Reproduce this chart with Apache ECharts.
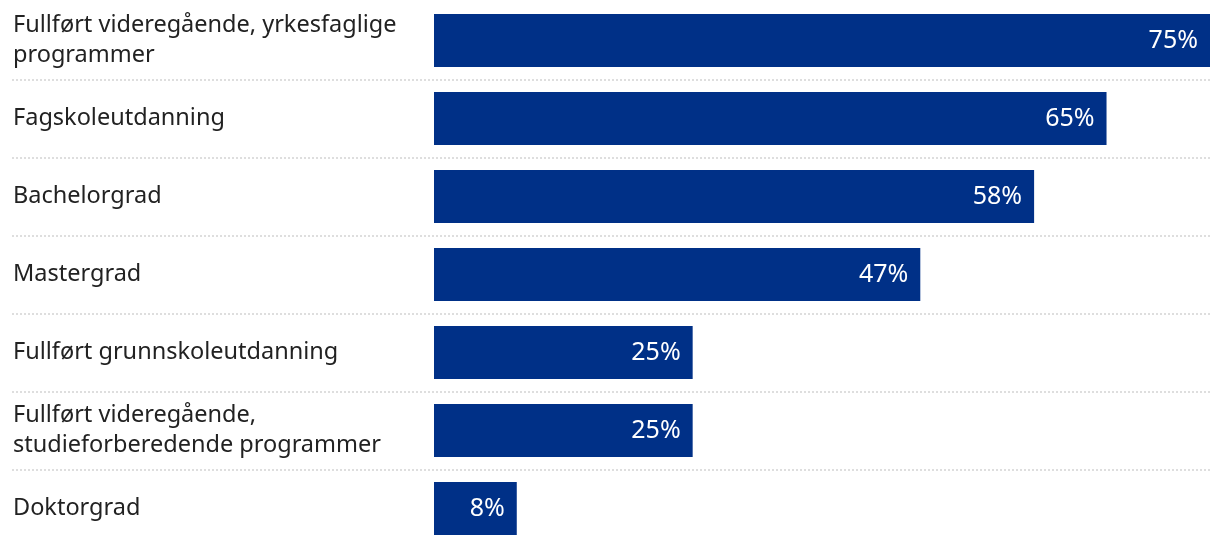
<!DOCTYPE html>
<html>
<head>
<meta charset="utf-8">
<script src="https://cdn.jsdelivr.net/npm/echarts@6/dist/echarts.min.js"></script>
<style>
  html, body { margin: 0; padding: 0; background: #fff; }
  #chart { width: 1220px; height: 548px; }
</style>
</head>
<body>
<div id="chart"></div>
<script>
// kategorier (ovenfra og ned)
const categories = [
  'Fullført videregående, yrkesfaglige\nprogrammer',
  'Fagskoleutdanning',
  'Bachelorgrad',
  'Mastergrad',
  'Fullført grunnskoleutdanning',
  'Fullført videregående,\nstudieforberedende programmer',
  'Doktorgrad'
]
// andel i prosent
const values = [75, 65, 58, 47, 25, 25, 8]

const barColor = '#003087'
const font = '"Noto Sans", sans-serif'

const chart = echarts.init(document.getElementById('chart'))

const option = {
  animation: false,
  grid: [
    // bakgrunn: etiketter og stiplede skillelinjer over hele bredden
    { left: 12, right: 10, top: 1.5, height: 546 },
    // søylene
    { left: 434, right: 10, top: 1.5, height: 546 }
  ],
  xAxis: [
    { gridIndex: 0, type: 'value', show: false, min: 0, max: 1 },
    { gridIndex: 1, type: 'value', show: false, min: 0, max: 75 }
  ],
  yAxis: [
    {
      gridIndex: 0,
      type: 'category',
      inverse: true,
      data: categories,
      axisLine: { show: false },
      axisTick: { show: false },
      axisLabel: {
        inside: true,
        margin: 1,
        color: '#222',
        fontFamily: font,
        fontSize: 23.5,
        lineHeight: 30
      },
      splitLine: {
        show: true,
        showMinLine: false,
        showMaxLine: false,
        lineStyle: { color: '#d4d4d4', width: 1.5, type: [2, 2] }
      }
    },
    {
      gridIndex: 1,
      type: 'category',
      inverse: true,
      data: categories,
      axisLine: { show: false },
      axisTick: { show: false },
      axisLabel: { show: false },
      splitLine: { show: false }
    }
  ],
  series: [
    {
      type: 'bar',
      xAxisIndex: 1,
      yAxisIndex: 1,
      data: values,
      barWidth: 53,
      itemStyle: { color: barColor },
      label: {
        show: true,
        position: 'insideRight',
        distance: 12,
        color: '#fff',
        fontFamily: font,
        fontSize: 25,
        formatter: (p) => p.value + '%'
      }
    }
  ]
}

chart.setOption(option)
</script>
</body>
</html>
